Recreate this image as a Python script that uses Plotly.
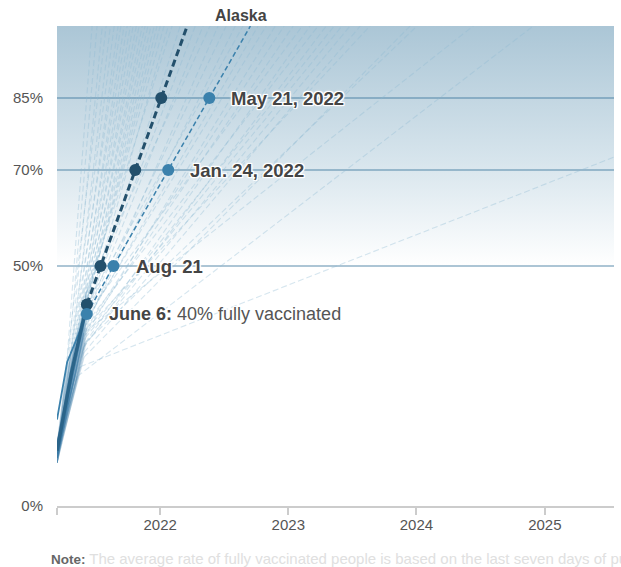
import plotly.graph_objects as go

FONT = "Liberation Sans, Arial, Helvetica, sans-serif"

# ---------------- data ----------------
x_range = ['2021-03-13', '2025-07-17']
x_tick_vals = ['2021-03-13', '2022-01-01', '2023-01-01', '2024-01-01', '2025-01-01']
x_tick_text = ['', '2022', '2023', '2024', '2025']
y_tick_vals = [0, 50, 70, 85]
y_tick_text = ['0%', '50%', '70%', '85%']

milestone_levels = [50, 70, 85]

# United States (dark line)
us_hist_dates = ['2021-03-13', '2021-04-24', '2021-06-06']
us_hist_pct = [11.5, 28, 42]
us_proj_dates = ['2021-06-06', '2022-03-19']
us_proj_pct = [42, 100]
us_milestone_dates = ['2021-07-15', '2021-10-22', '2022-01-04']

# Alaska (highlighted line)
ak_hist_dates = ['2021-03-13', '2021-04-11', '2021-06-06']
ak_hist_pct = [18, 30, 40]
ak_proj_dates = ['2021-06-06', '2021-08-21', '2022-01-24', '2022-05-21', '2022-09-15']
ak_proj_pct = [40, 50, 70, 85, 100]
ak_milestone_dates = ['2021-08-21', '2022-01-24', '2022-05-21']
ak_milestone_labels = ['Aug. 21', 'Jan. 24, 2022', 'May 21, 2022']

# faint comparison lines: start value, projection origin, date reaching 100%
fan_start_pct = [10, 11, 9, 12, 10, 13, 9, 11, 12, 10, 11, 13, 9, 12, 10, 11, 12,
                 10, 13, 11, 9, 12, 10, 11, 13, 10, 12, 11, 9, 12, 10, 11, 13, 10,
                 12, 11, 9, 12, 10, 11, 13, 10, 12, 11, 9, 12, 10, 11, 10, 9, 11]
fan_origin_dates = ['2021-04-08', '2021-04-14', '2021-04-20', '2021-04-02', '2021-04-25',
                    '2021-04-17', '2021-05-01', '2021-04-22', '2021-05-07', '2021-04-28',
                    '2021-05-12', '2021-05-04', '2021-05-18', '2021-05-10', '2021-05-24',
                    '2021-05-15', '2021-05-29', '2021-05-21', '2021-06-04', '2021-05-27',
                    '2021-06-01', '2021-06-06', '2021-05-24', '2021-06-04', '2021-05-29',
                    '2021-06-06', '2021-06-01', '2021-06-06', '2021-05-27', '2021-06-04',
                    '2021-05-29', '2021-06-06', '2021-06-01', '2021-06-06', '2021-05-27',
                    '2021-06-04', '2021-05-29', '2021-06-06', '2021-06-01', '2021-06-04',
                    '2021-05-27', '2021-06-06', '2021-06-01', '2021-06-04', '2021-05-29',
                    '2021-06-06', '2021-05-29', '2021-06-01', '2021-05-29', '2021-05-10',
                    '2021-05-18']
fan_origin_pct = [28, 30, 31, 25, 33, 30, 34, 32, 35, 33, 37, 34, 38, 36, 39, 37, 40,
                  38, 42, 39, 41, 43, 37, 44, 38, 41, 39, 45, 36, 40, 37, 42, 38, 39,
                  35, 37, 36, 40, 34, 38, 33, 36, 35, 34, 32, 37, 31, 34, 36, 27, 29]
fan_full_dates = ['2021-06-21', '2021-07-05', '2021-07-20', '2021-07-31', '2021-08-12',
                  '2021-08-23', '2021-09-03', '2021-09-11', '2021-09-20', '2021-09-29',
                  '2021-10-08', '2021-10-16', '2021-10-25', '2021-11-02', '2021-11-11',
                  '2021-11-19', '2021-11-27', '2021-12-06', '2021-12-15', '2021-12-23',
                  '2022-01-01', '2022-01-12', '2022-01-24', '2022-02-04', '2022-02-27',
                  '2022-04-11', '2022-05-03', '2022-05-23', '2022-06-15', '2022-07-08',
                  '2022-08-03', '2022-08-25', '2022-10-07', '2022-10-30', '2022-11-25',
                  '2022-12-20', '2023-01-15', '2023-02-10', '2023-03-04', '2023-03-27',
                  '2023-04-19', '2023-05-12', '2023-06-03', '2023-06-26', '2023-07-25',
                  '2023-08-22', '2023-12-14', '2024-01-03', '2024-06-11', '2024-11-29',
                  '2028-02-23']

# ---------------- styles ----------------
US_COLOR = '#23506c'
AK_COLOR = '#3b81ac'
HALO = ("-1px -1px 0 #fff, 1px -1px 0 #fff, -1px 1px 0 #fff, 1px 1px 0 #fff, "
        "0 0 3px #fff, 0 0 3px #fff")

fig = go.Figure()

# background gradient above 50%
fig.add_trace(go.Scatter(
    x=[x_range[0], x_range[1], x_range[1], x_range[0]],
    y=[milestone_levels[0], milestone_levels[0], 100, 100],
    fill='toself', mode='lines', line=dict(width=0),
    fillgradient=dict(type='vertical', start=50, stop=100,
                      colorscale=[[0, '#ffffff'], [0.45, '#d6e4ec'], [1, '#abc6d6']]),
    hoverinfo='skip'))

# milestone reference lines
for lvl in milestone_levels:
    fig.add_trace(go.Scatter(
        x=x_range, y=[lvl, lvl], mode='lines',
        line=dict(color='rgba(55,115,155,0.55)', width=1.6),
        hoverinfo='skip'))

# faint lines
for s, od, op, fd in zip(fan_start_pct, fan_origin_dates, fan_origin_pct, fan_full_dates):
    fig.add_trace(go.Scatter(
        x=[x_range[0], od], y=[s, op], mode='lines',
        line=dict(color='rgba(60,125,168,0.25)', width=1.2), hoverinfo='skip'))
    fig.add_trace(go.Scatter(
        x=[od, fd], y=[op, 100], mode='lines',
        line=dict(color='rgba(140,185,212,0.36)', width=1.1, dash='6px,3px'),
        hoverinfo='skip'))

# Alaska history + projection
fig.add_trace(go.Scatter(x=ak_hist_dates, y=ak_hist_pct, mode='lines',
                         line=dict(color=AK_COLOR, width=1.8), hoverinfo='skip'))
fig.add_trace(go.Scatter(x=ak_proj_dates, y=ak_proj_pct, mode='lines',
                         line=dict(color=AK_COLOR, width=1.5, dash='5px,3px'),
                         hoverinfo='skip'))
# US history + projection
fig.add_trace(go.Scatter(x=us_hist_dates, y=us_hist_pct, mode='lines',
                         line=dict(color='#2b6489', width=3.5), hoverinfo='skip'))
fig.add_trace(go.Scatter(x=us_proj_dates, y=us_proj_pct, mode='lines',
                         line=dict(color=US_COLOR, width=3, dash='7px,4px'),
                         hoverinfo='skip'))

# dots
fig.add_trace(go.Scatter(x=[us_hist_dates[-1]] + us_milestone_dates,
                         y=[us_hist_pct[-1]] + milestone_levels, mode='markers',
                         marker=dict(color=US_COLOR, size=12), hoverinfo='skip'))
fig.add_trace(go.Scatter(x=[ak_hist_dates[-1]] + ak_milestone_dates,
                         y=[ak_hist_pct[-1]] + milestone_levels, mode='markers',
                         marker=dict(color=AK_COLOR, size=12), hoverinfo='skip'))

annotations = []
for d, lvl, lab in zip(ak_milestone_dates, milestone_levels, ak_milestone_labels):
    annotations.append(dict(
        x=d, y=lvl, xref='x', yref='y', text=f'<b>{lab}</b>', showarrow=False,
        xanchor='left', yanchor='middle', xshift=20,
        font=dict(family=FONT, size=18.5, color='#444444', shadow=HALO)))
annotations.append(dict(
    x=ak_hist_dates[-1], y=ak_hist_pct[-1], xref='x', yref='y',
    text=f"<b>June 6:</b> <span style='color:#555555'>{ak_hist_pct[-1]}% fully vaccinated</span>",
    showarrow=False, xanchor='left', yanchor='middle', xshift=20,
    font=dict(family=FONT, size=18, color='#444444', shadow=HALO)))
annotations.append(dict(
    x=0.33, y=1, xref='paper', yref='paper', text='<b>Alaska</b>', showarrow=False,
    xanchor='center', yanchor='middle', yshift=11,
    font=dict(family=FONT, size=16, color='#444444')))
annotations.append(dict(
    x=-0.0145, y=0, xref='paper', yref='paper', showarrow=False,
    xanchor='left', yanchor='middle', yshift=-52,
    text=("<b>Note:</b> <span style='color:#e0e0e0;font-size:15px'>The average rate of "
          "fully vaccinated people is based on the last seven days of publicly "
          "reported data.</span>"),
    font=dict(family=FONT, size=13.5, color='#666666')))

fig.update_layout(
    width=621, height=567,
    margin=dict(l=57, r=7, t=26, b=61),
    plot_bgcolor='white', paper_bgcolor='white',
    showlegend=False,
    annotations=annotations,
    font=dict(family=FONT),
    xaxis=dict(type='date', range=x_range, tickvals=x_tick_vals, ticktext=x_tick_text,
               showline=True, linecolor='#cccccc', linewidth=2, ticks='outside',
               ticklen=7, tickwidth=1.5, tickcolor='#cccccc', showgrid=False,
               zeroline=False, ticklabelstandoff=-3,
               tickfont=dict(family=FONT, size=15, color='#555555')),
    yaxis=dict(range=[0, 100], tickvals=y_tick_vals, ticktext=y_tick_text,
               showgrid=False, zeroline=False, showline=False, ticks='outside',
               ticklen=10, tickcolor='rgba(0,0,0,0)',
               tickfont=dict(family=FONT, size=15, color='#555555')),
)

fig.write_html("out.html", config={'displayModeBar': False},
               post_script="document.body.style.margin='0px';document.body.style.overflow='hidden';")
